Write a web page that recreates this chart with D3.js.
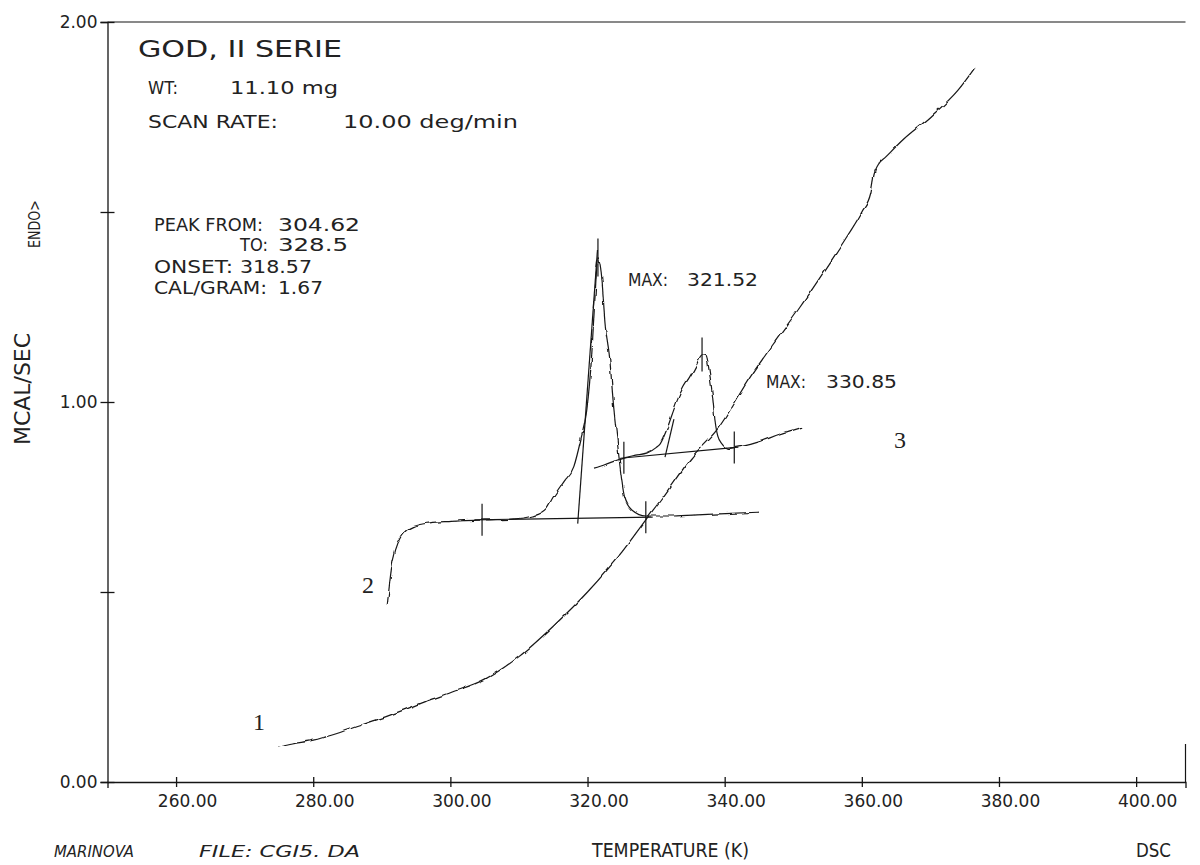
<!DOCTYPE html>
<html lang="en">
<head>
<meta charset="UTF-8">
<title>GOD, II SERIE - DSC</title>
<script src="https://d3js.org/d3.v7.min.js"></script>
<style>
  body { margin: 0; background: #fff; }
  svg text { font-family: "DejaVu Sans", sans-serif; fill: #222; }
  .trace { fill: none; stroke: #151515; stroke-width: 1.2; }
  .mark { fill: none; stroke: #151515; stroke-width: 1.2; }
  .axis path, .axis line { stroke: #151515; stroke-width: 1.3; }
  .axis text { font-family: "DejaVu Sans", sans-serif; font-size: 17px; fill: #222; }
  .serif { font-family: "Liberation Serif", "DejaVu Serif", serif !important; }
</style>
</head>
<body>
<svg id="chart" width="1200" height="865"></svg>
<script>
// axis ticks
const xTicks = [260, 280, 300, 320, 340, 360, 380, 400];
const yTicks = [0, 0.5, 1, 1.5, 2];

// curve 1 (T in K, mcal/sec)
const curve1 = [
  [274.9, 0.092], [277, 0.10], [280, 0.11], [283, 0.125], [287, 0.15], [290, 0.168],
  [294, 0.195], [297, 0.216], [300, 0.235], [305, 0.27], [310, 0.33], [315, 0.41],
  [320, 0.50], [325, 0.605], [328.5, 0.69], [331, 0.75], [335, 0.85], [339, 0.93],
  [343.7, 1.065], [347, 1.15], [351, 1.25], [355.4, 1.368], [358, 1.44], [360, 1.50],
  [361.3, 1.55], [361.8, 1.60], [362.4, 1.625], [363.5, 1.645], [366, 1.69], [370, 1.75],
  [374, 1.82], [376.5, 1.88]
];

// curve 2 (sample run, first peak)
const curve2 = [
  [290.8, 0.466], [291.0, 0.50], [291.4, 0.56], [292.0, 0.61], [293.0, 0.65], [294.5, 0.672],
  [297, 0.682], [300, 0.686], [305, 0.69], [309, 0.692], [312, 0.70], [314, 0.72],
  [315, 0.75], [316.5, 0.79], [318, 0.83], [319, 0.90], [319.9, 0.98], [320.6, 1.12],
  [321.1, 1.28], [321.52, 1.38], [322, 1.34], [322.6, 1.20], [323.2, 1.12], [323.8, 0.99],
  [324.2, 0.92], [325.4, 0.75], [326.5, 0.715], [328.5, 0.70], [332, 0.70], [336, 0.703],
  [340, 0.706], [345, 0.71]
];

// curve 3 (second peak run)
const curve3 = [
  [320.95, 0.826], [322.5, 0.835], [324, 0.845], [325.3, 0.853], [327, 0.86], [328.7, 0.866],
  [330, 0.88], [330.6, 0.89], [331.5, 0.925], [332.3, 0.965], [333.1, 1.005], [334, 1.04],
  [334.9, 1.066], [335.8, 1.095], [336.7, 1.124], [337.3, 1.12], [337.8, 1.075], [338.2, 1.02],
  [338.6, 0.95], [339, 0.91], [339.6, 0.89], [340.5, 0.878], [341.4, 0.88], [343, 0.885],
  [345, 0.895], [348, 0.915], [351.3, 0.934]
];

// straight construction lines: baselines, tangents, peak markers
const baseline1 = [[303.5, 0.69], [329.5, 0.697]];
const tangent1 = [[321.45, 1.40], [318.57, 0.68]];
const peak1Mark = [[321.52, 1.33], [321.52, 1.43]];
const baseline2 = [[324.8, 0.852], [342, 0.881]];
const tangent2 = [[331.3, 0.855], [332.6, 0.955]];
const peak2Mark = [[336.7, 1.08], [336.7, 1.17]];
// limit ticks: [T, y]
const limitTicks = [[304.62, 0.69], [328.5, 0.697], [325.3, 0.853], [341.4, 0.88]];

const svg = d3.select("#chart");

const x = d3.scaleLinear().domain([250, 407.2]).range([107.5, 1185.5]);
const y = d3.scaleLinear().domain([0, 2]).range([782, 22]);

// soft wobble of the plotter pen
const f = svg.append("defs").append("filter").attr("id", "wob")
  .attr("x", "-5%").attr("y", "-5%").attr("width", "110%").attr("height", "110%");
f.append("feTurbulence").attr("type", "fractalNoise").attr("baseFrequency", "0.09")
  .attr("numOctaves", 1).attr("seed", 7).attr("result", "n");
f.append("feDisplacementMap").attr("in", "SourceGraphic").attr("in2", "n")
  .attr("scale", 4).attr("xChannelSelector", "R").attr("yChannelSelector", "G");

// frame
svg.append("line").attr("class", "mark")
  .attr("x1", x(250)).attr("x2", x(407.2)).attr("y1", y(2)).attr("y2", y(2));
svg.append("line").attr("class", "mark")
  .attr("x1", x(407.2)).attr("x2", x(407.2)).attr("y1", y(0.1)).attr("y2", y(0));

// x axis
const gx = svg.append("g").attr("class", "axis")
  .attr("transform", `translate(0,${y(0)})`)
  .call(d3.axisBottom(x).tickValues(xTicks).tickSizeOuter(0).tickSize(6)
    .tickFormat(d3.format(".2f")));
gx.selectAll(".tick line").attr("y1", -5).attr("y2", 5);
gx.selectAll(".tick text").attr("dx", 11).attr("y", 13);

// y axis
const gy = svg.append("g").attr("class", "axis")
  .attr("transform", `translate(${x(250)},0)`)
  .call(d3.axisLeft(y).tickValues(yTicks).tickSizeOuter(0).tickSize(7)
    .tickFormat(d => Number.isInteger(d) ? d3.format(".2f")(d) : ""));
gy.selectAll(".tick line").attr("x1", 7).attr("x2", -7);
gy.selectAll(".tick text").attr("x", -10);

// traces
const line = d3.line().x(d => x(d[0])).y(d => y(d[1])).curve(d3.curveMonotoneX);
const straight = d3.line().x(d => x(d[0])).y(d => y(d[1]));

[curve1, curve2, curve3].forEach(c => {
  svg.append("path").datum(c).attr("class", "trace").attr("d", line).attr("filter", "url(#wob)");
});
[baseline1, tangent1, peak1Mark, baseline2, tangent2, peak2Mark].forEach(c => {
  svg.append("path").datum(c).attr("class", "mark").attr("d", straight);
});
svg.selectAll(".limit").data(limitTicks).enter().append("line")
  .attr("class", "mark limit")
  .attr("x1", d => x(d[0])).attr("x2", d => x(d[0]))
  .attr("y1", d => y(d[1]) - 16).attr("y2", d => y(d[1]) + 16);

// texts
function label(str, px, py, size, len, extra) {
  const t = svg.append("text").attr("x", px).attr("y", py)
    .attr("font-size", size).text(str);
  if (len) t.attr("textLength", len).attr("lengthAdjust", "spacingAndGlyphs");
  if (extra) extra(t);
  return t;
}

label("GOD, II SERIE", 138, 57, 23, 204);
label("WT:", 148, 94, 18, 30);
label("11.10 mg", 230, 94, 18, 108);
label("SCAN RATE:", 148, 128, 18, 130);
label("10.00 deg/min", 343, 128, 18, 175);

label("PEAK FROM:", 154, 231, 17, 109);
label("304.62", 278, 231, 17, 82);
label("TO:", 240, 251, 17, 28);
label("328.5", 278, 251, 17, 70);
label("ONSET:", 154, 273, 17, 79);
label("318.57", 240, 273, 17, 72);
label("CAL/GRAM:", 154, 294, 17, 113);
label("1.67", 278, 294, 17, 45);

label("MAX:", 628, 286, 17, 40);
label("321.52", 687, 286, 17, 71);
label("MAX:", 766, 388, 17, 40);
label("330.85", 826, 388, 17, 71);

label("1", 259, 730, 24, null, t => t.attr("class", "serif").attr("text-anchor", "middle"));
label("2", 368, 593, 24, null, t => t.attr("class", "serif").attr("text-anchor", "middle"));
label("3", 900, 448, 24, null, t => t.attr("class", "serif").attr("text-anchor", "middle"));

label("ENDO>", 0, 0, 15, 48, t => t.attr("transform", "translate(40,248) rotate(-90)"));
label("MCAL/SEC", 0, 0, 22, 112, t => t.attr("transform", "translate(30,445) rotate(-90)"));

label("TEMPERATURE (K)", 592, 857, 20, 157);
label("MARINOVA", 54, 857, 16, 80, t => t.attr("font-style", "italic"));
label("FILE: CGI5. DA", 199, 857, 16, 161, t => t.attr("font-style", "italic"));
label("DSC", 1136, 857, 19, 35);
</script>
</body>
</html>
